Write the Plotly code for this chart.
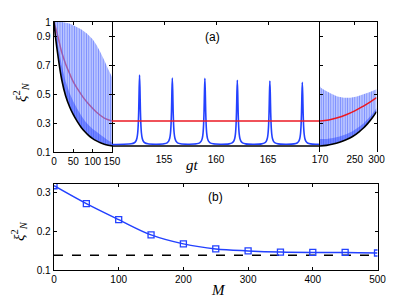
import plotly.graph_objects as go

# ---------------- data ----------------
# panel (a), segment 1: gt in [0, 150]
t1_black = [0, 5, 10, 20, 30, 40, 50, 60, 70, 80, 90, 100, 110, 120, 130, 140, 150]
v1_black = [1.0, 0.87, 0.77, 0.60, 0.49, 0.415, 0.358, 0.312, 0.272, 0.24, 0.213, 0.193, 0.177, 0.164, 0.154, 0.147, 0.142]
v1_band = [1.0, 0.93, 0.85, 0.70, 0.59, 0.51, 0.45, 0.40, 0.355, 0.315, 0.285, 0.26, 0.24, 0.22, 0.2, 0.18, 0.165]
t1_upper = [0, 20, 40, 55, 70, 85, 100, 110, 120, 130, 140, 150]
v1_upper = [1.0, 1.0, 0.99, 0.97, 0.95, 0.92, 0.88, 0.84, 0.79, 0.735, 0.675, 0.62]
t1_red = [0, 10, 20, 30, 40, 50, 60, 75, 90, 110, 130, 150]
v1_red = [1.0, 0.9, 0.79, 0.71, 0.645, 0.585, 0.54, 0.48, 0.43, 0.375, 0.335, 0.315]

# segment 2: gt in [150, 170]
t2_range = [150, 170]
peak_t = [152.65, 155.8, 158.93, 162.05, 165.18, 168.3]
peak_h = [0.633, 0.612, 0.61, 0.597, 0.592, 0.582]
peak_off = [-1.5, -0.8, -0.5, -0.35, -0.25, -0.18, -0.12, -0.08, -0.04, 0.0,
            0.04, 0.08, 0.12, 0.18, 0.25, 0.35, 0.5, 0.8, 1.5]
peak_frac = [0.003, 0.01, 0.025, 0.05, 0.093, 0.165, 0.31, 0.5, 0.8, 1.0,
             0.8, 0.5, 0.31, 0.165, 0.093, 0.05, 0.025, 0.01, 0.003]
base2 = 0.152
black2 = 0.142
red2 = 0.315

# segment 3: gt in [170, 300]
t3_black = [170, 185, 200, 215, 230, 245, 260, 270, 280, 290, 300]
v3_black = [0.142, 0.146, 0.155, 0.168, 0.185, 0.207, 0.24, 0.266, 0.298, 0.335, 0.38]
v3_band = [0.19, 0.19, 0.197, 0.208, 0.223, 0.243, 0.274, 0.298, 0.328, 0.362, 0.405]
t3_upper = [170, 172, 180, 195, 210, 225, 240, 255, 270, 285, 300]
v3_upper = [0.555, 0.545, 0.53, 0.505, 0.485, 0.475, 0.475, 0.485, 0.5, 0.515, 0.535]
t3_red = [170, 190, 210, 230, 250, 270, 285, 300]
v3_red = [0.315, 0.322, 0.337, 0.358, 0.385, 0.418, 0.445, 0.476]

top_yticks = [0.1, 0.3, 0.5, 0.7, 0.9, 1]
seg1_ticks = [0, 50, 100, 150]
seg2_ticks = [155, 160, 165]
seg3_ticks = [170, 250, 300]

# panel (b)
M_vals = [0, 50, 100, 150, 200, 250, 300, 350, 400, 450, 500]
xi_vals = [0.316, 0.270, 0.229, 0.190, 0.167, 0.154, 0.149, 0.146, 0.145, 0.145, 0.1436]
dash_level = 0.138
b_xticks = [0, 100, 200, 300, 400, 500]
b_yticks = [0.1, 0.2, 0.3]

# ---------------- build curves ----------------
x2_blue, y2_blue = [t2_range[0]], [base2]
for c, h in zip(peak_t, peak_h):
    for o, f in zip(peak_off, peak_frac):
        x2_blue.append(c + o)
        y2_blue.append(base2 + f * (h - base2))
x2_blue.append(t2_range[1])
y2_blue.append(base2)

BLUE = "rgb(35,65,255)"
RED = "rgb(235,25,35)"
pattern = dict(shape="|", size=2.4, solidity=0.45, fillmode="replace",
               bgcolor="rgba(140,158,255,0.5)", fgcolor="rgb(70,95,255)", fgopacity=0.6)

fig = go.Figure()

# segment 1
fig.add_trace(go.Scatter(x=t1_red, y=v1_red, mode="lines", line=dict(color=RED, width=1.5, shape="spline"),
                         xaxis="x", yaxis="y", showlegend=False))
fig.add_trace(go.Scatter(x=t1_upper + t1_black[::-1], y=v1_upper + v1_black[::-1], fill="toself",
                         mode="none", fillpattern=pattern, xaxis="x", yaxis="y", showlegend=False))
fig.add_trace(go.Scatter(x=t1_black + t1_black[::-1], y=v1_band + v1_black[::-1], fill="toself",
                         mode="none", fillcolor="rgba(30,60,255,0.45)", xaxis="x", yaxis="y", showlegend=False))
fig.add_trace(go.Scatter(x=t1_black, y=v1_black, mode="lines", line=dict(color="black", width=1.6, shape="spline"),
                         xaxis="x", yaxis="y", showlegend=False))

# segment 2
fig.add_trace(go.Scatter(x=t2_range, y=[red2, red2], mode="lines", line=dict(color=RED, width=1.5),
                         xaxis="x5", yaxis="y2", showlegend=False))
fig.add_trace(go.Scatter(x=t2_range, y=[black2, black2], mode="lines", line=dict(color="black", width=1.6),
                         xaxis="x2", yaxis="y2", showlegend=False))
fig.add_trace(go.Scatter(x=x2_blue, y=y2_blue, mode="lines", line=dict(color=BLUE, width=1.6, shape="spline", smoothing=0.6),
                         xaxis="x2", yaxis="y2", showlegend=False))

# segment 3
fig.add_trace(go.Scatter(x=t3_red, y=v3_red, mode="lines", line=dict(color=RED, width=1.5, shape="spline"),
                         xaxis="x6", yaxis="y3", showlegend=False))
fig.add_trace(go.Scatter(x=t3_upper + t3_black[::-1], y=v3_upper + v3_black[::-1], fill="toself",
                         mode="none", fillpattern=pattern, xaxis="x3", yaxis="y3", showlegend=False))
fig.add_trace(go.Scatter(x=t3_black + t3_black[::-1], y=v3_band + v3_black[::-1], fill="toself",
                         mode="none", fillcolor="rgba(30,60,255,0.45)", xaxis="x3", yaxis="y3", showlegend=False))
fig.add_trace(go.Scatter(x=t3_black, y=v3_black, mode="lines", line=dict(color="black", width=1.6, shape="spline"),
                         xaxis="x3", yaxis="y3", showlegend=False))

# panel (b)
fig.add_trace(go.Scatter(x=[M_vals[0], M_vals[-1]], y=[dash_level, dash_level], mode="lines",
                         line=dict(color="black", width=1.5, dash="dash"), xaxis="x4", yaxis="y4", showlegend=False))
fig.add_trace(go.Scatter(x=M_vals, y=xi_vals, mode="lines+markers",
                         line=dict(color=BLUE, width=1.5, shape="spline"),
                         marker=dict(symbol="square-open", size=6, color=BLUE, line=dict(width=1.3)),
                         xaxis="x4", yaxis="y4", showlegend=False))

W, H = 415, 299
def px(v):
    return v / W
def py(v):
    return (H - v) / H

tickfont = dict(family="Liberation Sans, Arial, sans-serif", size=10, color="black")
frame = dict(showline=True, linecolor="black", linewidth=1.3, ticks="inside", ticklen=3,
             tickcolor="black", tickwidth=1, showgrid=False, zeroline=False, tickfont=tickfont,
             tickangle=0, automargin=False)

d1 = [px(54), px(112)]
d2 = [px(112), px(320)]
d3 = [px(320), px(376.5)]
dy_top = [py(152), py(22)]

fig.update_layout(
    width=W, height=H, margin=dict(l=0, r=0, t=0, b=0, autoexpand=False),
    paper_bgcolor="white", plot_bgcolor="white", hovermode=False,
    xaxis=dict(frame, domain=d1, anchor="y", range=[0, 150], tickvals=seg1_ticks, mirror="ticks"),
    yaxis=dict(frame, domain=dy_top, anchor="x", range=[0.1, 1], tickvals=top_yticks,
               ticktext=["0.1", "0.3", "0.5", "0.7", "0.9", "1"], mirror="ticks"),
    xaxis2=dict(frame, domain=d2, anchor="y2", side="top", range=[150, 170], tickvals=seg2_ticks,
                showticklabels=False),
    xaxis5=dict(frame, overlaying="x2", anchor="y2", side="bottom", range=[150, 170], tickvals=seg2_ticks,
                showline=False, ticks=""),
    yaxis2=dict(frame, domain=dy_top, anchor="x2", range=[0.1, 1], tickvals=top_yticks,
                showticklabels=False, showline=False),
    xaxis3=dict(frame, domain=d3, anchor="y3", side="top", range=[170, 300], tickvals=seg3_ticks,
                showticklabels=False),
    xaxis6=dict(frame, overlaying="x3", anchor="y3", side="bottom", range=[170, 300], tickvals=seg3_ticks,
                showline=False, ticks=""),
    yaxis3=dict(frame, domain=dy_top, anchor="x3", range=[0.1, 1], tickvals=top_yticks,
                showticklabels=False, mirror="ticks"),
    xaxis4=dict(frame, domain=[px(54), px(377.5)], anchor="y4", range=[0, 500], tickvals=b_xticks, mirror="ticks"),
    yaxis4=dict(frame, domain=[py(270), py(184)], anchor="x4", range=[0.1, 0.3205], tickvals=b_yticks,
                ticktext=["0.1", "0.2", "0.3"], mirror="ticks"),
)

serif_it = dict(family="Liberation Serif, DejaVu Serif, serif", size=15, color="black")
ann = [
    dict(text="(a)", x=px(213), y=py(37), font=dict(family="Liberation Sans, Arial", size=12, color="black")),
    dict(text="(b)", x=px(215), y=py(197), font=dict(family="Liberation Sans, Arial", size=12, color="black")),
    dict(text="<i>gt</i>", x=px(192), y=py(165), font=serif_it),
    dict(text="<i>M</i>", x=px(218), y=py(290), font=serif_it),
    dict(text="<i>ξ</i><sup>2</sup><sub><i>N</i></sub>", x=px(21), y=py(92), textangle=-90, font=serif_it),
    dict(text="<i>ξ</i><sup>2</sup><sub><i>N</i></sub>", x=px(19), y=py(231), textangle=-90, font=serif_it),
]
for a in ann:
    fig.add_annotation(xref="paper", yref="paper", showarrow=False, xanchor="center", yanchor="middle", **a)

fig.write_html("out.html", config={"displayModeBar": False, "staticPlot": True},
               post_script="document.body.style.margin='0';document.body.style.overflow='hidden';")
